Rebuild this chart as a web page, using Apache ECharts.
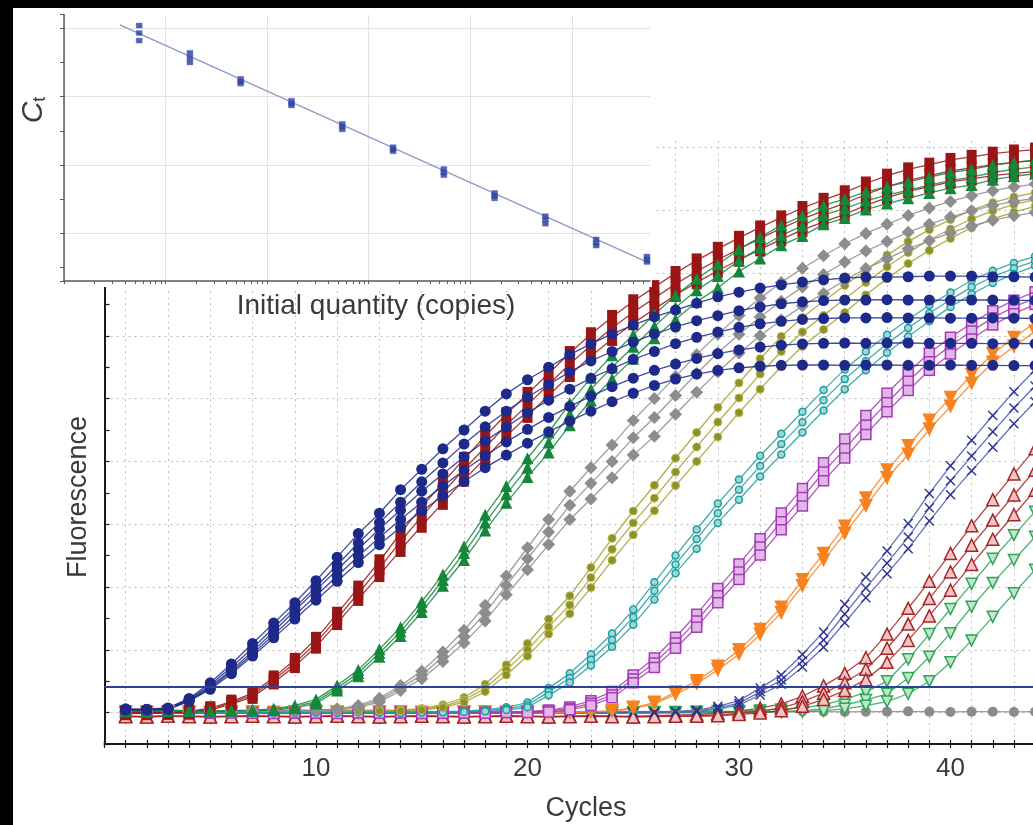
<!DOCTYPE html>
<html>
<head>
<meta charset="UTF-8">
<title>Amplification curves</title>
<script src="https://cdn.jsdelivr.net/npm/echarts@6.0.0/dist/echarts.min.js"></script>
<style>
  html, body { margin: 0; padding: 0; background: #000; overflow: hidden; width: 1033px; height: 825px; }
  #chart { position: absolute; left: 13px; top: 8px; width: 1100px; height: 817px; background: #fff; }
</style>
</head>
<body>
<div id="chart"></div>
<script>
// cycle numbers (x of the main plot)
var cycles = [1,2,3,4,5,6,7,8,9,10, 11,12,13,14,15,16,17,18,19,20, 21,22,23,24,25,26,27,28,29,30,
  31,32,33,34,35,36,37,38,39,40, 41,42,43,44,45];

// fluorescence read per cycle (units = one minor y tick)
var navyCircle1 = [1.12,1.11,1.15,1.45,1.95,2.55,3.2,3.85,4.5,5.2, 5.95,6.7,7.35,8.1,8.75,9.4,10.0,10.6,11.15,11.6,
  12.0,12.4,12.74,13.06,13.34,13.6,13.82,14.04,14.24,14.39, 14.52,14.62,14.71,14.78,14.84,14.87,14.87,14.88,14.9,14.9,
  14.9,14.88,14.88,14.87,14.87];
var navyCircle2 = [1.1,1.1,1.13,1.42,1.88,2.45,3.05,3.7,4.35,5.0, 5.7,6.4,7.05,7.7,8.35,8.95,9.55,10.1,10.6,11.05,
  11.45,11.85,12.2,12.5,12.8,13.06,13.28,13.48,13.64,13.8, 13.92,14.02,14.08,14.12,14.14,14.14,14.15,14.14,14.14,14.13,
  14.14,14.14,14.13,14.13,14.12];
var navyCircle3 = [1.09,1.1,1.12,1.4,1.82,2.36,2.95,3.58,4.25,4.9, 5.55,6.2,6.85,7.45,8.05,8.6,9.15,9.65,10.1,10.55,
  10.95,11.3,11.65,11.95,12.25,12.5,12.75,12.95,13.12,13.27, 13.38,13.46,13.52,13.55,13.57,13.57,13.58,13.57,13.57,13.56,
  13.56,13.57,13.56,13.55,13.55];
var navyCircle4 = [1.1,1.08,1.11,1.38,1.78,2.3,2.87,3.48,4.1,4.72, 5.35,5.98,6.58,7.15,7.7,8.22,8.72,9.18,9.62,10.02,
  10.4,10.75,11.08,11.38,11.65,11.9,12.1,12.28,12.43,12.55, 12.64,12.7,12.74,12.76,12.77,12.76,12.77,12.77,12.76,12.76,
  12.76,12.75,12.76,12.75,12.75];
var navyCircle5 = [1.08,1.09,1.1,1.36,1.74,2.24,2.8,3.38,3.98,4.58, 5.18,5.78,6.35,6.9,7.42,7.9,8.36,8.8,9.2,9.58,
  9.94,10.28,10.6,10.9,11.17,11.42,11.62,11.78,11.9,11.98, 12.03,12.06,12.07,12.07,12.06,12.07,12.07,12.06,12.06,12.07,
  12.06,12.06,12.05,12.05,12.05];

var redSquare1 = [1.02,1.0,1.03,1.04,1.14,1.35,1.62,2.12,2.68,3.35, 4.15,4.98,5.82,6.72,7.55,8.32,9.08,9.8,10.5,11.15,
  11.8,12.45,13.05,13.6,14.1,14.55,15.0,15.4,15.77,16.12, 16.45,16.77,17.07,17.33,17.57,17.85,18.1,18.3,18.45,18.6,
  18.7,18.8,18.87,18.93,18.98];
var redSquare2 = [1.0,0.99,1.01,1.02,1.11,1.31,1.56,2.04,2.58,3.22, 4.0,4.8,5.6,6.45,7.25,8.0,8.75,9.45,10.15,10.8,
  11.45,12.1,12.7,13.25,13.75,14.2,14.65,15.05,15.42,15.77, 16.1,16.42,16.72,16.98,17.22,17.5,17.75,17.95,18.1,18.25,
  18.35,18.45,18.52,18.58,18.63];
var redSquare3 = [0.98,0.98,0.99,1.0,1.08,1.27,1.5,1.96,2.48,3.1, 3.85,4.62,5.38,6.18,6.95,7.68,8.42,9.1,9.8,10.45,
  11.1,11.75,12.35,12.9,13.4,13.85,14.3,14.7,15.07,15.42, 15.75,16.07,16.37,16.63,16.87,17.15,17.4,17.6,17.75,17.9,
  18.0,18.1,18.17,18.23,18.28];

var greenTri1 = [1.06,1.05,1.07,1.06,1.05,1.07,1.08,1.12,1.23,1.42, 1.86,2.36,3.02,3.72,4.53,5.4,6.3,7.3,8.22,9.1,
  9.92,10.85,11.66,12.38,13.03,13.68,14.28,14.82,15.27,15.75, 16.14,16.52,16.82,17.15,17.35,17.58,17.75,17.9,18.05,18.2,
  18.3,18.43,18.52,18.6,18.66];
var greenTri2 = [1.05,1.04,1.06,1.05,1.04,1.06,1.07,1.1,1.19,1.35, 1.78,2.26,2.9,3.58,4.37,5.22,6.08,7.05,7.95,8.8,
  9.6,10.5,11.3,12.0,12.65,13.3,13.9,14.45,14.9,15.4, 15.8,16.2,16.5,16.85,17.05,17.3,17.48,17.64,17.8,17.95,
  18.05,18.2,18.3,18.38,18.45];
var greenTri3 = [1.04,1.03,1.05,1.04,1.03,1.05,1.06,1.08,1.15,1.29, 1.7,2.16,2.78,3.44,4.2,5.04,5.86,6.8,7.68,8.5,
  9.28,10.15,10.94,11.62,12.27,12.92,13.52,14.08,14.53,15.05, 15.46,15.88,16.18,16.55,16.75,17.02,17.21,17.38,17.55,17.7,
  17.8,17.97,18.08,18.16,18.24];

var graySample1 = [1.04,1.06,1.05,1.07,1.06,1.05,1.06,1.07,1.06,1.08, 1.12,1.23,1.46,1.86,2.32,2.93,3.62,4.42,5.35,6.25,
  7.15,8.05,8.8,9.52,10.3,11.0,11.7,12.4,13.05,13.65, 14.2,14.7,15.15,15.55,15.93,16.26,16.55,16.83,17.07,17.28,
  17.46,17.62,17.74,17.83,17.9];
var graySample2 = [1.03,1.05,1.04,1.06,1.05,1.04,1.05,1.06,1.05,1.07, 1.1,1.19,1.4,1.78,2.2,2.78,3.42,4.17,5.05,5.9,
  6.75,7.6,8.3,9.0,9.75,10.4,11.1,11.8,12.45,13.05, 13.6,14.1,14.55,14.95,15.35,15.7,16.0,16.3,16.55,16.78,
  16.98,17.15,17.28,17.38,17.46];
var graySample3 = [1.02,1.04,1.03,1.05,1.04,1.03,1.04,1.05,1.04,1.06, 1.08,1.15,1.34,1.7,2.08,2.63,3.22,3.92,4.75,5.55,
  6.35,7.15,7.8,8.48,9.2,9.8,10.5,11.2,11.85,12.45, 13.0,13.5,13.95,14.35,14.77,15.14,15.45,15.77,16.03,16.28,
  16.5,16.68,16.82,16.93,17.02];

var oliveSample1 = [1.07,1.06,1.08,1.06,1.07,1.05,1.07,1.06,1.08,1.07, 1.06,1.07,1.08,1.08,1.13,1.25,1.48,1.9,2.52,3.2,
  3.98,4.72,5.62,6.55,7.42,8.24,9.1,9.92,10.72,11.5, 12.27,12.98,13.58,14.1,14.6,15.1,15.57,16.0,16.38,16.7,
  17.0,17.24,17.42,17.56,17.67];
var oliveSample2 = [1.06,1.05,1.07,1.05,1.06,1.04,1.06,1.05,1.07,1.06, 1.05,1.06,1.07,1.06,1.1,1.2,1.4,1.78,2.36,2.99,
  3.73,4.43,5.3,6.2,7.04,7.83,8.66,9.46,10.25,11.02, 11.78,12.5,13.12,13.65,14.17,14.7,15.2,15.65,16.05,16.4,
  16.72,16.98,17.18,17.34,17.47];
var oliveSample3 = [1.05,1.04,1.06,1.04,1.05,1.03,1.05,1.04,1.06,1.05, 1.04,1.05,1.06,1.05,1.08,1.16,1.33,1.67,2.2,2.8,
  3.5,4.15,4.98,5.85,6.66,7.43,8.23,9.0,9.78,10.55, 11.3,12.02,12.66,13.2,13.74,14.3,14.82,15.3,15.72,16.1,
  16.44,16.72,16.94,17.12,17.26];

var tealSample1 = [1.01,1.02,1.0,1.01,1.03,1.01,1.02,1.0,1.01,1.02, 1.01,1.03,1.02,1.01,1.02,1.03,1.05,1.09,1.17,1.32,
  1.78,2.25,2.86,3.52,4.28,5.15,6.0,6.83,7.66,8.42, 9.18,9.88,10.58,11.27,11.93,12.5,13.03,13.52,13.97,14.38,
  14.76,15.07,15.32,15.53,15.68];
var tealSample2 = [1.0,1.01,0.99,1.0,1.02,1.0,1.01,0.99,1.0,1.01, 1.0,1.02,1.01,1.0,1.01,1.02,1.03,1.06,1.12,1.24,
  1.66,2.1,2.68,3.31,4.04,4.88,5.72,6.53,7.35,8.1, 8.85,9.55,10.25,10.95,11.62,12.2,12.75,13.25,13.72,14.15,
  14.55,14.88,15.15,15.38,15.55];
var tealSample3 = [0.99,1.0,0.98,0.99,1.01,0.99,1.0,0.98,0.99,1.0, 0.99,1.01,1.0,0.99,1.0,1.01,1.02,1.04,1.08,1.17,
  1.55,1.96,2.5,3.1,3.8,4.6,5.44,6.22,7.04,7.78, 8.52,9.22,9.92,10.62,11.3,11.9,12.46,12.98,13.46,13.92,
  14.33,14.68,14.97,15.22,15.4];

var purpleSample1 = [0.99,1.0,1.01,0.99,1.0,1.01,1.0,0.99,1.01,1.0, 0.99,1.01,1.0,1.01,0.99,1.0,1.01,1.0,1.02,1.04,
  1.08,1.18,1.38,1.67,2.2,2.74,3.4,4.13,4.95,5.73, 6.54,7.36,8.14,8.96,9.71,10.46,11.17,11.84,12.45,12.95,
  13.4,13.8,14.13,14.4,14.64];
var purpleSample2 = [0.98,0.99,1.0,0.98,0.99,1.0,0.99,0.98,1.0,0.99, 0.98,1.0,0.99,1.0,0.98,0.99,1.0,0.99,1.01,1.02,
  1.05,1.13,1.3,1.56,2.07,2.58,3.22,3.92,4.72,5.48, 6.27,7.08,7.85,8.66,9.4,10.15,10.87,11.55,12.17,12.68,
  13.15,13.57,13.92,14.2,14.46];
var purpleSample3 = [0.97,0.98,0.99,0.97,0.98,0.99,0.98,0.97,0.99,0.98, 0.97,0.99,0.98,0.99,0.97,0.98,0.99,0.98,1.0,1.0,
  1.02,1.09,1.23,1.47,1.95,2.44,3.05,3.72,4.5,5.24, 6.02,6.82,7.58,8.38,9.11,9.86,10.58,11.26,11.9,12.42,
  12.9,13.34,13.7,14.0,14.27];

var orangeSample1 = [1.01,1.0,1.02,1.01,1.0,1.02,1.01,1.0,1.01,1.02, 1.01,1.0,1.02,1.01,1.0,1.01,1.02,1.01,1.0,1.01,
  1.02,1.01,1.03,1.06,1.16,1.32,1.65,2.01,2.47,2.99, 3.64,4.35,5.22,6.06,6.93,7.83,8.72,9.49,10.3,11.03,
  11.76,12.43,12.94,13.42,13.82];
var orangeSample2 = [1.0,0.99,1.01,1.0,0.99,1.01,1.0,0.99,1.0,1.01, 1.0,0.99,1.01,1.0,0.99,1.0,1.01,1.0,0.99,1.0,
  1.01,1.0,1.02,1.04,1.13,1.28,1.58,1.92,2.36,2.86, 3.49,4.18,5.03,5.85,6.7,7.58,8.47,9.22,10.02,10.75,
  11.48,12.15,12.66,13.14,13.56];

var navyCross1 = [1.01,1.02,1.0,1.01,1.02,1.01,1.0,1.01,1.02,1.01, 1.0,1.01,1.02,1.01,1.0,1.01,1.02,1.01,1.0,1.01,
  1.02,1.01,1.0,1.01,1.02,1.02,1.04,1.08,1.2,1.38, 1.78,2.2,2.85,3.57,4.45,5.32,6.15,7.02,7.98,8.86,
  9.67,10.46,11.22,11.92,12.55];
var navyCross2 = [1.0,1.01,0.99,1.0,1.01,1.0,0.99,1.0,1.01,1.0, 0.99,1.0,1.01,1.0,0.99,1.0,1.01,1.0,0.99,1.0,
  1.01,1.0,0.99,1.0,1.01,1.0,1.02,1.05,1.15,1.3, 1.66,2.04,2.64,3.31,4.14,4.97,5.76,6.59,7.52,8.38,
  9.17,9.94,10.7,11.4,12.04];
var navyCross3 = [0.99,1.0,0.98,0.99,1.0,0.99,0.98,0.99,1.0,0.99, 0.98,0.99,1.0,0.99,0.98,0.99,1.0,0.99,0.98,0.99,
  1.0,0.99,0.98,0.99,1.0,0.99,1.01,1.03,1.11,1.24, 1.56,1.9,2.45,3.08,3.86,4.66,5.42,6.22,7.1,7.94,
  8.7,9.45,10.2,10.9,11.54];

var redTri1 = [0.89,0.88,0.9,0.89,0.88,0.89,0.9,0.89,0.88,0.89, 0.9,0.89,0.88,0.89,0.9,0.89,0.88,0.89,0.9,0.89,
  0.88,0.89,0.9,0.89,0.88,0.9,0.92,0.94,0.98,1.05, 1.14,1.28,1.52,1.85,2.25,2.75,3.5,4.32,5.18,6.07,
  6.95,7.78,8.6,9.4,10.15];
var redTri2 = [0.88,0.87,0.89,0.88,0.87,0.88,0.89,0.88,0.87,0.88, 0.89,0.88,0.87,0.88,0.89,0.88,0.87,0.88,0.89,0.88,
  0.87,0.88,0.89,0.88,0.87,0.88,0.89,0.9,0.93,0.98, 1.05,1.15,1.35,1.62,1.95,2.38,3.05,3.82,4.63,5.48,
  6.33,7.13,7.93,8.72,9.48];
var redTri3 = [0.87,0.86,0.88,0.87,0.86,0.87,0.88,0.87,0.86,0.87, 0.88,0.87,0.86,0.87,0.88,0.87,0.86,0.87,0.88,0.87,
  0.86,0.87,0.88,0.87,0.86,0.87,0.88,0.88,0.9,0.94, 0.99,1.06,1.2,1.42,1.7,2.05,2.6,3.3,4.08,4.9,
  5.72,6.52,7.3,8.08,8.85];

var greenOpen1 = [1.01,1.02,1.01,1.0,1.01,1.02,1.01,1.0,1.01,1.02, 1.01,1.0,1.01,1.02,1.01,1.0,1.01,1.02,1.01,1.0,
  1.01,1.02,1.01,1.0,1.01,1.02,1.02,1.03,1.04,1.05, 1.07,1.1,1.15,1.25,1.42,1.65,2.0,2.7,3.5,4.3,
  5.1,5.9,6.65,7.4,8.1];
var greenOpen2 = [1.0,1.01,1.0,0.99,1.0,1.01,1.0,0.99,1.0,1.01, 1.0,0.99,1.0,1.01,1.0,0.99,1.0,1.01,1.0,0.99,
  1.0,1.01,1.0,0.99,1.0,1.01,1.0,1.01,1.02,1.02, 1.03,1.04,1.06,1.12,1.25,1.4,1.6,2.1,2.78,3.53,
  4.37,5.13,5.86,6.6,7.3];
var greenOpen3 = [0.99,1.0,0.99,0.98,0.99,1.0,0.99,0.98,0.99,1.0, 0.99,0.98,0.99,1.0,0.99,0.98,0.99,1.0,0.99,0.98,
  0.99,1.0,0.99,0.98,0.99,1.0,0.99,1.0,1.0,1.01, 1.01,1.02,1.03,1.06,1.12,1.22,1.35,1.6,2.0,2.6,
  3.3,4.05,4.8,5.55,6.3];

var noTemplate = [1.03,1.02,1.03,1.04,1.03,1.02,1.03,1.03,1.04,1.03, 1.02,1.03,1.03,1.04,1.03,1.02,1.03,1.03,1.02,1.03,
  1.04,1.03,1.02,1.03,1.03,1.04,1.03,1.02,1.03,1.03, 1.02,1.03,1.04,1.03,1.02,1.03,1.03,1.04,1.03,1.02,
  1.03,1.03,1.02,1.03,1.03];

var threshold = 1.82;

// inset: standard curve, log10(copies) vs Ct
var insetLogCopies = [0.74, 1.24, 1.74, 2.24, 2.74, 3.24, 3.74, 4.24, 4.74, 5.24, 5.74];
var insetCtA = [40.4, 36.4, 32.6, 29.4, 26.0, 22.6, 19.4, 15.9, 12.5, 9.1, 6.6];
var insetCtB = [39.3, 35.7, 32.2, 29.0, 25.6, 22.3, 18.9, 15.5, 12.0, 8.6, 6.2];
var insetCtC = [38.2, 35.0, 31.9, 28.7, 25.2, 22.0, 18.5, 15.1, 11.4, 8.2, 5.8];
var fitLine = [[0.55, 40.5], [5.77, 5.6]];

var FONT = 'Liberation Sans, Arial, sans-serif';
var chart = echarts.init(document.getElementById('chart'));

function curve(values, color, symbol, size, extra) {
  var s = {
    type: 'line',
    xAxisIndex: 0,
    yAxisIndex: 0,
    data: cycles.map(function (c, i) { return [c, values[i]]; }),
    symbol: symbol,
    symbolSize: size,
    showAllSymbol: true,
    silent: true,
    lineStyle: { width: 1.3, color: color, opacity: 0.85 },
    itemStyle: { color: color }
  };
  if (extra) {
    for (var k in extra) s[k] = extra[k];
  }
  return s;
}

var crossPath = 'path://M0,1L1,0L5,4L9,0L10,1L6,5L10,9L9,10L5,6L1,10L0,9L4,5Z';
// open markers: pale fill with a coloured outline
var openStyle = function (fill, edge) { return { color: fill, borderColor: edge, borderWidth: 1.5 }; };

var series = [];
series.push(curve(noTemplate, '#8b8b8b', 'circle', 10, {
  markLine: {
    silent: true, symbol: 'none', label: { show: false },
    lineStyle: { color: '#2d4296', width: 2, type: 'solid' },
    data: [{ yAxis: threshold }]
  }
}));
[greenOpen1, greenOpen2, greenOpen3].forEach(function (d) {
  series.push(curve(d, '#2ea558', 'triangle', 11, { symbolRotate: 180, itemStyle: openStyle('#bfe6c9', '#2ea558') }));
});
[redTri1, redTri2, redTri3].forEach(function (d) {
  series.push(curve(d, '#a82525', 'triangle', 12, { itemStyle: openStyle('#f0c4c4', '#a82525') }));
});
[navyCross1, navyCross2, navyCross3].forEach(function (d) {
  series.push(curve(d, '#2d3590', crossPath, 10, { lineStyle: { width: 1.3, color: '#5560b8', opacity: 0.9 } }));
});
[orangeSample1, orangeSample2].forEach(function (d) {
  series.push(curve(d, '#f7821e', 'triangle', 14, { symbolRotate: 180 }));
});
[purpleSample1, purpleSample2, purpleSample3].forEach(function (d) {
  series.push(curve(d, '#a53bb7', 'rect', 10, { itemStyle: openStyle('#e3b6ea', '#a53bb7') }));
});
[tealSample1, tealSample2, tealSample3].forEach(function (d) {
  series.push(curve(d, '#1e9d9d', 'circle', 7, { itemStyle: openStyle('#9fd8d8', '#1e9d9d') }));
});
[oliveSample1, oliveSample2, oliveSample3].forEach(function (d) {
  series.push(curve(d, '#9fa12c', 'circle', 8, { itemStyle: { color: '#8e902a', borderColor: '#b8ba4a', borderWidth: 1 } }));
});
[graySample1, graySample2, graySample3].forEach(function (d) {
  series.push(curve(d, '#8d8d8d', 'diamond', 13));
});
[redSquare1, redSquare2, redSquare3].forEach(function (d) {
  series.push(curve(d, '#9a1616', 'rect', [10, 14]));
});
[greenTri1, greenTri2, greenTri3].forEach(function (d) {
  series.push(curve(d, '#15873b', 'triangle', 12));
});
[navyCircle1, navyCircle2, navyCircle3, navyCircle4, navyCircle5].forEach(function (d) {
  series.push(curve(d, '#1d2a8a', 'circle', 11));
});

// inset series
series.push({
  type: 'line', xAxisIndex: 2, yAxisIndex: 1, data: fitLine, symbol: 'none', silent: true,
  lineStyle: { color: '#8e9cc6', width: 1.5 }, z: 7
});
[insetCtA, insetCtB, insetCtC].forEach(function (ct) {
  series.push({
    type: 'scatter', xAxisIndex: 2, yAxisIndex: 1, silent: true,
    data: insetLogCopies.map(function (x, i) { return [x, ct[i]]; }),
    symbol: 'rect', symbolSize: [6, 5],
    itemStyle: { color: '#2a3b9c', borderColor: '#5b78c8', borderWidth: 0.5 }, z: 8
  });
});

var logTicks = [];
for (var d = 0; d <= 5; d++) {
  for (var m = 1; m <= 9; m++) {
    var v = d + Math.log10(m);
    if (v <= 5.77) logTicks.push(v);
  }
}

var axisDark = { color: '#1a1a1a', width: 2 };
var tickDark = { color: '#1a1a1a', width: 1.2 };
var dotted = { color: '#bdbdbd', width: 1, type: [2, 4] };

chart.setOption({
  animation: false,
  backgroundColor: '#fff',
  grid: [
    { left: 91.5, top: 133.1, width: 962.3, height: 602.9 },
    { left: 51, top: 6.6, width: 586, height: 266.5 }
  ],
  xAxis: [
    {
      gridIndex: 0, type: 'value', min: 0, max: 45.5, interval: 2,
      axisLine: { onZero: false, lineStyle: axisDark },
      axisTick: { show: true, inside: false, length: 4, lineStyle: tickDark },
      minorTick: { show: true, splitNumber: 2, length: 4, lineStyle: tickDark },
      axisLabel: {
        margin: 12, fontSize: 26, color: '#3a3a3a', fontFamily: FONT,
        formatter: function (v) { return (v > 0 && v % 10 === 0) ? String(v) : ''; }
      },
      splitLine: { show: false },
      minorSplitLine: { show: true, lineStyle: dotted }
    },
    {
      gridIndex: 0, type: 'value', position: 'bottom', min: 0, max: 45.5, interval: 1,
      axisLine: { show: false, onZero: false },
      axisTick: { show: true, inside: true, length: 4, lineStyle: tickDark },
      axisLabel: { show: false }, splitLine: { show: false }
    },
    {
      gridIndex: 1, type: 'value', position: 'bottom', min: 0, max: 5.77, interval: 1, z: 6,
      axisLine: { onZero: false, lineStyle: { color: '#5a5a5a', width: 1.5 } },
      axisTick: { show: true, length: 3, customValues: logTicks, lineStyle: { color: '#5a5a5a' } },
      axisLabel: { show: false }, splitLine: { show: false }
    },
    {
      gridIndex: 1, type: 'value', position: 'bottom', min: 0, max: 5.77, interval: 1, z: 6,
      axisLine: { show: false, onZero: false }, axisTick: { show: false }, axisLabel: { show: false },
      splitLine: { show: true, showMaxLine: false, lineStyle: { color: '#e3e3e3', width: 1 } }
    }
  ],
  yAxis: [
    {
      gridIndex: 0, type: 'value', min: 0, max: 19.2, interval: 2,
      axisLine: { show: true, lineStyle: axisDark },
      axisTick: { show: true, inside: true, length: 5, lineStyle: tickDark },
      minorTick: { show: true, splitNumber: 2, length: 5, lineStyle: tickDark },
      axisLabel: { show: false },
      splitLine: { show: false },
      minorSplitLine: { show: true, lineStyle: dotted }
    },
    {
      gridIndex: 1, type: 'value', min: 3, max: 42, splitNumber: 4, z: 6,
      axisLine: { show: true, lineStyle: { color: '#5a5a5a', width: 1.5 } },
      axisTick: { show: true, length: 4, lineStyle: { color: '#5a5a5a' } },
      minorTick: { show: true, splitNumber: 2, length: 4, lineStyle: { color: '#5a5a5a' } },
      axisLabel: { show: false },
      splitLine: { show: true, showMinLine: false, showMaxLine: false, lineStyle: { color: '#e3e3e3', width: 1 } }
    }
  ],
  graphic: [
    { type: 'rect', z: 5, silent: true, shape: { x: 0, y: 0, width: 639, height: 279 }, style: { fill: '#fff' } },
    {
      type: 'text', z: 9, x: 363, y: 298, silent: true,
      style: { text: 'Initial quantity (copies)', font: '28px ' + FONT, fill: '#3a3a3a', textAlign: 'center', textVerticalAlign: 'middle' }
    },
    {
      type: 'text', z: 9, x: 573, y: 801, silent: true,
      style: { text: 'Cycles', font: '27px ' + FONT, fill: '#3a3a3a', textAlign: 'center', textVerticalAlign: 'middle' }
    },
    {
      type: 'text', z: 9, x: 66, y: 489, rotation: Math.PI / 2, silent: true,
      style: { text: 'Fluorescence', font: '27px ' + FONT, fill: '#3a3a3a', textAlign: 'center', textVerticalAlign: 'middle' }
    },
    {
      type: 'text', z: 9, x: 21, y: 102, rotation: Math.PI / 2, silent: true,
      style: {
        text: '{c|C}{t|t}', textAlign: 'center', textVerticalAlign: 'middle',
        rich: {
          c: { fontFamily: FONT, fontSize: 30, fontStyle: 'italic', fill: '#3a3a3a' },
          t: { fontFamily: FONT, fontSize: 18, fill: '#3a3a3a', padding: [12, 0, 0, 0] }
        }
      }
    }
  ],
  series: series
});
</script>
</body>
</html>
